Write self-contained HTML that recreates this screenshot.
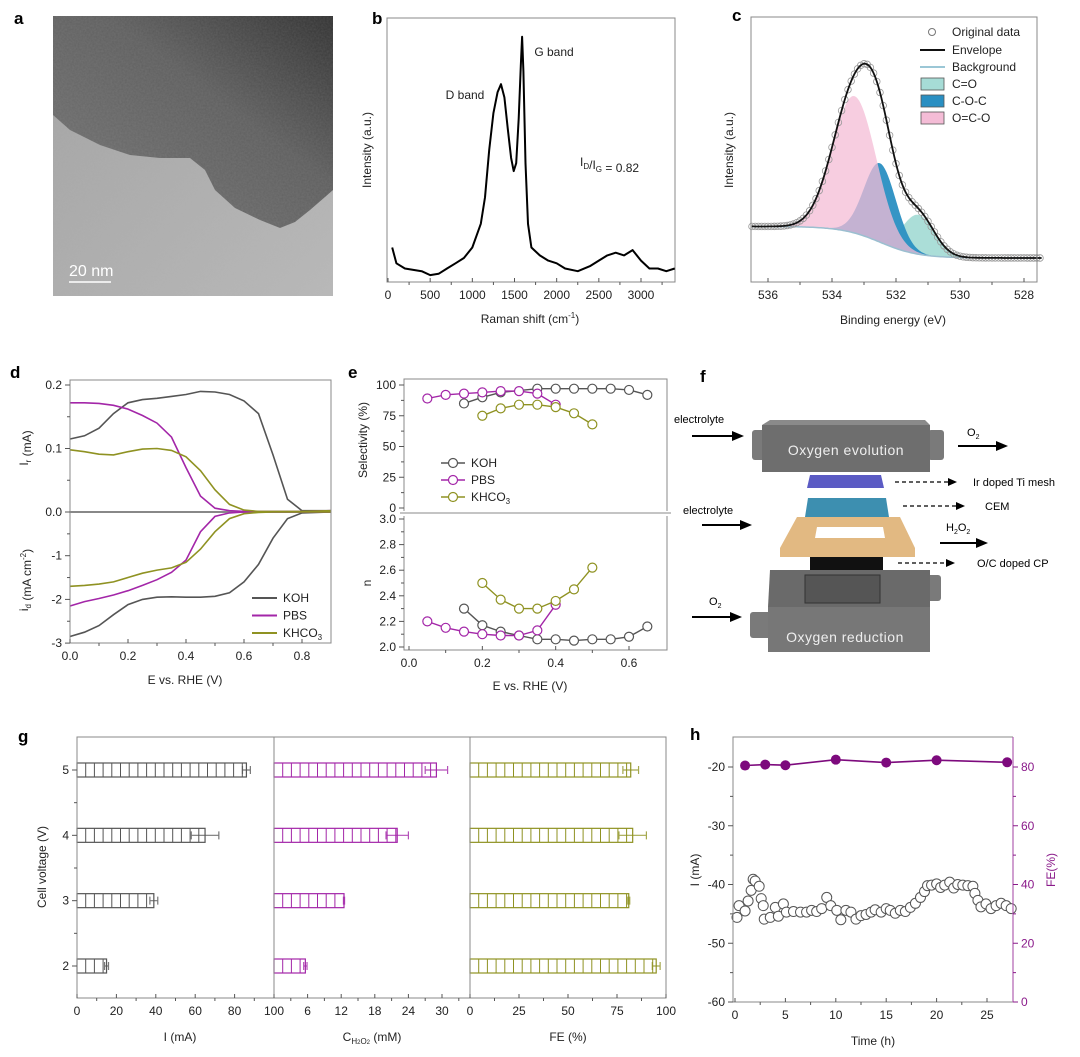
<!DOCTYPE html>
<html><head><meta charset="utf-8"><style>
html,body{margin:0;padding:0;background:#fff;}
svg{display:block;font-family:"Liberation Sans",Arial,sans-serif;}
</style></head><body>
<svg id="fig" width="1080" height="1057" viewBox="0 0 1080 1057" xmlns="http://www.w3.org/2000/svg">
<defs>
<filter id="grain" x="0" y="0" width="100%" height="100%"><feTurbulence type="fractalNoise" baseFrequency="0.55" numOctaves="2" seed="3"/><feColorMatrix type="matrix" values="0 0 0 0 0.5  0 0 0 0 0.5  0 0 0 0 0.5  0 0 0 0.5 0"/><feComposite in2="SourceGraphic" operator="in"/></filter>
<linearGradient id="darkg" x1="0" y1="1" x2="1" y2="0"><stop offset="0" stop-color="#747474"/><stop offset="0.6" stop-color="#5e5e5e"/><stop offset="1" stop-color="#303030"/></linearGradient>
<linearGradient id="lightg" x1="0" y1="0" x2="1" y2="1"><stop offset="0" stop-color="#a2a2a2"/><stop offset="1" stop-color="#b8b8b8"/></linearGradient>
</defs>
<g>
<rect x="53" y="16" width="280" height="280" fill="url(#lightg)"/>
<path d="M53,16 L333,16 L333,190 L325,197 L310,210 L295,222 L280,228 L260,220 L235,208 L215,190 L205,170 L190,158 L160,158 L130,155 L100,145 L70,130 L53,115 Z" fill="url(#darkg)"/>
<rect x="53" y="16" width="280" height="280" fill="#888" filter="url(#grain)" opacity="0.35"/>
<text x="69" y="276" font-size="16" fill="#fff">20 nm</text>
<line x1="69" y1="282" x2="111" y2="282" stroke="#fff" stroke-width="1.5"/>
</g>
<g font-size="11">
<text x="674" y="423">electrolyte</text>
<line x1="692" y1="436" x2="736" y2="436" stroke="#000" stroke-width="2"/><path d="M732,431 L744,436 L732,441 Z"/>
<rect x="752" y="430" width="14" height="30" rx="3" fill="#7a7a7a"/>
<rect x="928" y="430" width="16" height="30" rx="3" fill="#7a7a7a"/>
<path d="M762,425 L770,420 L925,420 L930,425 Z" fill="#8a8a8a"/>
<rect x="762" y="425" width="168" height="47" fill="#6e6e6e"/>
<text x="846" y="455" font-size="14" fill="#eee" text-anchor="middle" letter-spacing="0.5">Oxygen evolution</text>
<text x="967" y="436" font-size="11">O<tspan font-size="7" dy="3">2</tspan></text>
<line x1="958" y1="446" x2="1000" y2="446" stroke="#000" stroke-width="2"/><path d="M996,441 L1008,446 L996,451 Z"/>
<path d="M810,475 L881,475 L884,488 L807,488 Z" fill="#5b5bc4"/>
<line x1="895" y1="482" x2="950" y2="482" stroke="#000" stroke-width="1.3" stroke-dasharray="4,3"/><path d="M948,478 L957,482 L948,486 Z"/>
<text x="973" y="486">Ir doped Ti mesh</text>
<path d="M808,498 L886,498 L889,517 L805,517 Z" fill="#3d8fb0"/>
<line x1="903" y1="506" x2="958" y2="506" stroke="#000" stroke-width="1.3" stroke-dasharray="4,3"/><path d="M956,502 L965,506 L956,510 Z"/>
<text x="985" y="510">CEM</text>
<text x="683" y="514">electrolyte</text>
<line x1="702" y1="525" x2="744" y2="525" stroke="#000" stroke-width="2"/><path d="M740,520 L752,525 L740,530 Z"/>
<path d="M797,517 L900,517 L915,548 L915,557 L780,557 L780,548 Z" fill="#e2b982"/>
<path d="M817,527 L883,527 L885,538 L815,538 Z" fill="#fff"/>
<text x="946" y="531">H<tspan font-size="7" dy="3">2</tspan><tspan dy="-3">O</tspan><tspan font-size="7" dy="3">2</tspan></text>
<line x1="940" y1="543" x2="980" y2="543" stroke="#000" stroke-width="2"/><path d="M976,538 L988,543 L976,548 Z"/>
<rect x="810" y="557" width="73" height="13" fill="#111"/>
<line x1="898" y1="563" x2="948" y2="563" stroke="#000" stroke-width="1.3" stroke-dasharray="4,3"/><path d="M946,559 L955,563 L946,567 Z"/>
<text x="977" y="567">O/C doped CP</text>
<rect x="750" y="612" width="22" height="26" rx="3" fill="#7a7a7a"/>
<rect x="925" y="575" width="16" height="26" rx="3" fill="#7a7a7a"/>
<path d="M770,570 L930,570 L930,607 L768,607 Z" fill="#6a6a6a"/>
<rect x="805" y="575" width="75" height="28" fill="#555" stroke="#333"/>
<rect x="768" y="607" width="162" height="45" fill="#777"/>
<text x="845" y="642" font-size="14" fill="#eee" text-anchor="middle" letter-spacing="0.5">Oxygen reduction</text>
<text x="709" y="605">O<tspan font-size="7" dy="3">2</tspan></text>
<line x1="692" y1="617" x2="734" y2="617" stroke="#000" stroke-width="2"/><path d="M730,612 L742,617 L730,622 Z"/>
</g>
<g font-weight="bold" font-size="17">
<text x="14" y="24">a</text>
<text x="372" y="24">b</text>
<text x="732" y="21">c</text>
<text x="10" y="378">d</text>
<text x="348" y="378">e</text>
<text x="700" y="382">f</text>
<text x="18" y="742">g</text>
<text x="690" y="740">h</text>
</g>
</svg>
<script>
// ---------- data ----------
const ramanShift=[50,100,200,300,400,500,600,700,800,900,1000,1100,1150,1200,1250,1300,1340,1380,1420,1460,1490,1520,1550,1575,1590,1605,1630,1660,1700,1800,1900,2000,2100,2250,2400,2500,2600,2700,2800,2900,3000,3100,3200,3300,3400];
const ramanInt=[0.13,0.07,0.05,0.045,0.04,0.025,0.03,0.05,0.07,0.09,0.13,0.22,0.32,0.5,0.64,0.72,0.75,0.7,0.58,0.47,0.42,0.45,0.62,0.82,0.93,0.8,0.45,0.22,0.13,0.1,0.08,0.07,0.05,0.04,0.06,0.08,0.1,0.11,0.1,0.12,0.08,0.05,0.05,0.04,0.05];
const xpsCenters=[531.3,532.5,533.3];
const xpsHeights=[0.15,0.30,0.52];
const xpsWidths=[0.5,0.5,0.68];
const xpsNames=['C=O','C-O-C','O=C-O'];
const dE=[0,0.05,0.1,0.15,0.2,0.25,0.3,0.35,0.4,0.45,0.5,0.55,0.6,0.65,0.7,0.75,0.8,0.9];
const dKOHup=[0.115,0.12,0.132,0.155,0.172,0.177,0.179,0.182,0.185,0.19,0.189,0.185,0.175,0.155,0.09,0.02,0.002,0.002];
const dPBSup=[0.172,0.172,0.171,0.168,0.162,0.152,0.14,0.118,0.07,0.025,0.006,0.002,0.001,0.001,0.001,0.001,0.001,0.002];
const dKHCup=[0.098,0.095,0.091,0.09,0.095,0.099,0.1,0.097,0.087,0.065,0.035,0.012,0.003,0.001,0.001,0.001,0.001,0.002];
const dKOHdn=[-2.85,-2.75,-2.6,-2.35,-2.12,-2.0,-1.95,-1.94,-1.95,-1.95,-1.93,-1.85,-1.6,-1.2,-0.6,-0.15,-0.02,0];
const dPBSdn=[-2.15,-2.05,-1.98,-1.9,-1.8,-1.68,-1.55,-1.38,-1.1,-0.45,-0.1,-0.02,0,0,0,0,0,0];
const dKHCdn=[-1.7,-1.68,-1.65,-1.6,-1.5,-1.4,-1.33,-1.28,-1.15,-0.85,-0.45,-0.15,-0.04,-0.01,0,0,0,0];
const eKOHx=[0.15,0.2,0.25,0.35,0.4,0.45,0.5,0.55,0.6,0.65];
const eKOHsel=[85,90,94,97,97,97,97,97,96,92];
const ePBSx=[0.05,0.1,0.15,0.2,0.25,0.3,0.35,0.4];
const ePBSsel=[89,92,93,94,95,95,93,84];
const eKHCx=[0.2,0.25,0.3,0.35,0.4,0.45,0.5];
const eKHCsel=[75,81,84,84,82,77,68];
const eKOHnx=[0.15,0.2,0.25,0.3,0.35,0.4,0.45,0.5,0.55,0.6,0.65];
const eKOHn=[2.3,2.17,2.12,2.09,2.06,2.06,2.05,2.06,2.06,2.08,2.16];
const ePBSn=[2.2,2.15,2.12,2.1,2.09,2.09,2.13,2.33];
const eKHCn=[2.5,2.37,2.3,2.3,2.36,2.45,2.62];
const gVolt=[5,4,3,2];
const gCurrent=[86,65,39,15];
const gCurrentErr=[2,7,2,1];
const gConc=[29,22,12.5,5.6];
const gConcErr=[2,2,0.1,0.3];
const gFE=[82,83,81,95];
const gFEErr=[4,7,0.5,2];
const hTime=[0.2,0.4,1,1.3,1.6,1.8,2,2.4,2.6,2.8,2.9,3.5,4,4.3,4.8,5.1,5.8,6.5,7.1,7.6,8.1,8.6,9.1,9.5,10.1,10.5,11,11.5,12,12.5,13,13.5,13.9,14.5,15,15.4,15.9,16.4,16.9,17.4,17.9,18.4,18.8,19.1,19.5,20,20.4,20.8,21.3,21.7,22.1,22.6,23.1,23.6,23.8,24.1,24.4,24.9,25.4,25.9,26.4,26.9,27.4];
const hCurrent=[-45.6,-43.6,-44.5,-42.8,-41,-39.1,-39.4,-40.3,-42.4,-43.6,-45.9,-45.6,-43.9,-45.4,-43.3,-44.7,-44.6,-44.7,-44.7,-44.4,-44.6,-44.1,-42.2,-43.6,-44.4,-46,-44.4,-44.7,-45.9,-45.3,-45.1,-44.7,-44.3,-44.7,-44.1,-44.4,-44.9,-44.4,-44.6,-43.9,-43.2,-42.2,-41.2,-40.2,-40.1,-39.9,-40.5,-40.1,-39.6,-40.6,-40,-40.1,-40.2,-40.3,-41.5,-42.7,-43.8,-43.3,-44.1,-43.6,-43.2,-43.6,-44.1];
const hFETime=[1,3,5,10,15,20,27];
const hFE=[80.5,80.8,80.6,82.5,81.5,82.3,81.6];

// ---------- helpers ----------
const NS='http://www.w3.org/2000/svg';
const svg=document.getElementById('fig');
function mk(tag,attrs,parent){const e=document.createElementNS(NS,tag);for(const k in attrs)e.setAttribute(k,attrs[k]);(parent||svg).appendChild(e);return e;}
function lin(d0,d1,r0,r1){return v=>r0+(v-d0)*(r1-r0)/(d1-d0);}
function grp(){return mk('g',{});}
function xTicks(g,vals,labels,sx,y,len,minor){vals.forEach((v,i)=>{const t=mk('line',{x1:sx(v),x2:sx(v),y1:y,y2:y+len,stroke:'#555','stroke-width':1},g);


if(labels&&labels[i]!==''){const l=mk('text',{x:sx(v),y:y+17,'font-size':12,'text-anchor':'middle',fill:'#222'},g);l.textContent=labels[i];

}});
(minor||[]).forEach(v=>{const t=mk('line',{x1:sx(v),x2:sx(v),y1:y,y2:y+3,stroke:'#555','stroke-width':1},g);

});}
function yTicks(g,vals,labels,sy,x,dir,minor,color){color=color||'#222';vals.forEach((v,i)=>{const t=mk('line',{x1:x,x2:x+dir*5,y1:sy(v),y2:sy(v),stroke:color==='#222'?'#555':color,'stroke-width':1},g);


if(labels){const l=mk('text',{x:x+dir*8,y:sy(v)+4,'font-size':12,'text-anchor':dir<0?'end':'start',fill:color},g);l.textContent=labels[i];

}});
(minor||[]).forEach(v=>{const t=mk('line',{x1:x,x2:x+dir*3,y1:sy(v),y2:sy(v),stroke:color==='#222'?'#555':color,'stroke-width':1},g);

});}
function rtext(g,x,y,s,size,color){const t=mk('text',{x:x,y:y,'font-size':size||12,'text-anchor':'middle',fill:color||'#222',transform:`rotate(-90 ${x} ${y})`},g);t.innerHTML=s;return t;}
function ctext(g,x,y,s,size,color,anchor){const t=mk('text',{x:x,y:y,'font-size':size||12,'text-anchor':anchor||'middle',fill:color||'#222'},g);t.innerHTML=s;return t;}
function pathFrom(xs,ys,sx,sy){return xs.map((v,i)=>(i?'L':'M')+sx(v).toFixed(1)+','+sy(ys[i]).toFixed(1)).join(' ');}
const sub=s=>`<tspan font-size="8" dy="3">${s}</tspan><tspan dy="-3"></tspan>`;

// ---------- panel b ----------
(function(){const g=grp();


const sx=lin(0,3000,388,641), sy=v=>281.7-263.3*v;
const box=mk('rect',{x:387,y:18,width:288,height:264,fill:'none',stroke:'#888'},g);


const p=mk('path',{d:pathFrom(ramanShift,ramanInt,sx,sy),fill:'none',stroke:'#000','stroke-width':2,'stroke-linejoin':'round'},g);


xTicks(g,[0,500,1000,1500,2000,2500,3000],['0','500','1000','1500','2000','2500','3000'],sx,282,-4,[250,750,1250,1750,2250,2750,3250]);
const xt=ctext(g,530,323,'Raman shift (cm<tspan font-size="8" dy="-5">-1</tspan><tspan dy="5">)</tspan>',12);


const yt=rtext(g,371,150,'Intensity (a.u.)',12);


const d=ctext(g,465,99,'D band',12);


const gb=ctext(g,554,56,'G band',12);


const r=ctext(g,580,166,'I'+sub('D')+'/I'+sub('G')+' = 0.82',12,'#222','start');


})();

// ---------- panel c ----------
(function(){const g=grp();


const sx=E=>768+(536-E)*32, sy=v=>281.7-263.3*v;
const bg=E=>0.09+0.12/(1+Math.exp(-(E-532.5)/0.6));
const comp=(k,E)=>xpsHeights[k]*Math.exp(-Math.pow(E-xpsCenters[k],2)/(2*xpsWidths[k]*xpsWidths[k]));
const Es=[];for(let E=536.5;E>=527.45;E-=0.05)Es.push(+E.toFixed(2));
const fills=['#a6dcd6','#2a8fc2','#f4bcd6'];
[0,1,2].forEach(k=>{let d='M'+sx(Es[0])+','+sy(bg(Es[0]));Es.forEach(E=>d+=' L'+sx(E).toFixed(1)+','+sy(bg(E)+comp(k,E)).toFixed(1));
for(let i=Es.length-1;i>=0;i--)d+=' L'+sx(Es[i]).toFixed(1)+','+sy(bg(Es[i])).toFixed(1);
const a=mk('path',{d:d+'Z',fill:fills[k],opacity:k===2?0.75:0.95},g);

});
const bgl=mk('path',{d:pathFrom(Es,Es.map(bg),sx,sy),fill:'none',stroke:'#9bbfd0','stroke-width':1.5},g);


const env=Es.map(E=>bg(E)+comp(0,E)+comp(1,E)+comp(2,E));
for(let i=0;i<Es.length;i+=2){const c=mk('circle',{cx:sx(Es[i]),cy:sy(env[i]),r:3.3,fill:'none',stroke:'#999','stroke-width':0.8},g);

}
const el=mk('path',{d:pathFrom(Es,env,sx,sy),fill:'none',stroke:'#111','stroke-width':1.8},g);


const box=mk('rect',{x:751,y:17,width:286,height:265,fill:'none',stroke:'#888'},g);


xTicks(g,[536,534,532,530,528],['536','534','532','530','528'],sx,282,-4,[535,533,531,529]);
const xt=ctext(g,893,324,'Binding energy (eV)',12);


const yt=rtext(g,733,150,'Intensity (a.u.)',12);


const lg=mk('g',{},g);


const c0=mk('circle',{cx:932,cy:32,r:3.5,fill:'#fff',stroke:'#777'},lg);


const l1=mk('line',{x1:920,x2:945,y1:50,y2:50,stroke:'#111','stroke-width':2},lg);


const l2=mk('line',{x1:920,x2:945,y1:67,y2:67,stroke:'#9bc7d6','stroke-width':2},lg);


[0,1,2].forEach(k=>{const s=mk('rect',{x:921,y:78+k*17,width:23,height:12,fill:fills[k],stroke:'#555','stroke-width':0.8},lg);

});
['Original data','Envelope','Background','C=O','C-O-C','O=C-O'].forEach((s,i)=>{const t=ctext(lg,952,[36,54,71,88,105,122][i],s,12,'#222','start');

});
})();

// ---------- panel d ----------
(function(){const g=grp();


const sx=lin(0,0.8,70,302), su=v=>512-v*635, sl=v=>512-v*43.7;
const zero=mk('line',{x1:70,x2:331,y1:512,y2:512,stroke:'#888','stroke-width':2},g);


const cols=['#555','#a326a8','#8f9222'];
[[dKOHup,dKOHdn,'koh'],[dPBSup,dPBSdn,'pbs'],[dKHCup,dKHCdn,'khco3']].forEach((s,k)=>{
const a=mk('path',{d:pathFrom(dE,s[0],sx,su),fill:'none',stroke:cols[k],'stroke-width':1.6},g);


const b=mk('path',{d:pathFrom(dE,s[1],sx,sl),fill:'none',stroke:cols[k],'stroke-width':1.6},g);

});
const box=mk('rect',{x:70,y:380,width:261,height:263,fill:'none',stroke:'#888'},g);


xTicks(g,[0,0.2,0.4,0.6,0.8],['0.0','0.2','0.4','0.6','0.8'],sx,643,-4,[0.1,0.3,0.5,0.7]);
yTicks(g,[0.2,0.1,0.0],['0.2','0.1','0.0'],su,70,-1,[0.15,0.05]);
yTicks(g,[-1,-2,-3],['-1','-2','-3'],sl,70,-1,[-0.5,-1.5,-2.5]);
const xt=ctext(g,185,684,'E vs. RHE (V)',12);


const y1=rtext(g,28,448,'I'+sub('r')+' (mA)',12);


const y2=rtext(g,28,580,'i'+sub('d')+' (mA cm<tspan font-size="8" dy="-5">-2</tspan><tspan dy="5">)</tspan>',12);


['KOH','PBS','KHCO'+sub('3')].forEach((s,k)=>{const y=598+k*17.5;
const l=mk('line',{x1:252,x2:277,y1:y,y2:y,stroke:cols[k],'stroke-width':2},g);


const t=ctext(g,283,y+4,s,12,'#222','start');

});
})();

// ---------- panel e ----------
(function(){const g=grp();


const sx=lin(0,0.6,409,629), s1=lin(0,100,508,385), s2=lin(2,3,647,519);
const cols=['#555','#a326a8','#8f9222'];
const series=[[eKOHx,eKOHsel,eKOHnx,eKOHn,'koh'],[ePBSx,ePBSsel,ePBSx,ePBSn,'pbs'],[eKHCx,eKHCsel,eKHCx,eKHCn,'khco3']];
series.forEach((s,k)=>{
const a=mk('path',{d:pathFrom(s[0],s[1],sx,s1),fill:'none',stroke:cols[k],'stroke-width':1.4},g);


s[0].forEach((v,i)=>{const c=mk('circle',{cx:sx(v),cy:s1(s[1][i]),r:4.5,fill:'#fff',stroke:cols[k],'stroke-width':1.2},g);

});
const b=mk('path',{d:pathFrom(s[2],s[3],sx,s2),fill:'none',stroke:cols[k],'stroke-width':1.4},g);


s[2].forEach((v,i)=>{const c=mk('circle',{cx:sx(v),cy:s2(s[3][i]),r:4.5,fill:'#fff',stroke:cols[k],'stroke-width':1.2},g);

});});
const fr=mk('path',{d:'M404,511 L404,379 L667,379 L667,511 M404,516 L404,650 L667,650 L667,516 M400,513 L671,513',fill:'none',stroke:'#888'},g);


xTicks(g,[0,0.2,0.4,0.6],['0.0','0.2','0.4','0.6'],sx,650,-4,[0.1,0.3,0.5]);
yTicks(g,[100,75,50,25,0],['100','75','50','25','0'],s1,404,-1,[87.5,62.5,37.5,12.5]);
yTicks(g,[3,2.8,2.6,2.4,2.2,2],['3.0','2.8','2.6','2.4','2.2','2.0'],s2,404,-1,[2.9,2.7,2.5,2.3,2.1]);
const xt=ctext(g,530,690,'E vs. RHE (V)',12);


const y1=rtext(g,367,440,'Selectivity (%)',12);


const y2=rtext(g,371,583,'n',12);


['KOH','PBS','KHCO'+sub('3')].forEach((s,k)=>{const y=463+k*17;
const l=mk('line',{x1:441,x2:465,y1:y,y2:y,stroke:cols[k],'stroke-width':1.4},g);


const c=mk('circle',{cx:453,cy:y,r:4.5,fill:'#fff',stroke:cols[k],'stroke-width':1.2},g);


const t=ctext(g,471,y+4,s,12,'#222','start');

});
})();

// ---------- panel g ----------
(function(){const g=grp();


const sy=lin(2,5,966,770);
const sxI=lin(0,100,77,274), sxC=lin(0,30,274,442), sxF=lin(0,100,470,666);
const cols=['#555','#a326a8','#8f9222'];
const sets=[[gCurrent,gCurrentErr,sxI,'current'],[gConc,gConcErr,sxC,'concentration'],[gFE,gFEErr,sxF,'faradaic-efficiency']];
sets.forEach((s,k)=>{const x0=s[2](0);
gVolt.forEach((v,i)=>{const y=sy(v),x1=s[2](s[0][i]);
const r=mk('rect',{x:x0,y:y-7,width:x1-x0,height:14,fill:'#fff',stroke:cols[k],'stroke-width':1.2},g);


let dd='';for(let x=x0+8.7;x<x1-1;x+=8.7)dd+=`M${x.toFixed(1)},${y-7} L${x.toFixed(1)},${y+7} `;
if(dd){const h=mk('path',{d:dd,stroke:cols[k],'stroke-width':1,fill:'none'},g);

}
const ea=s[2](s[0][i]-s[1][i]), eb=s[2](s[0][i]+s[1][i]);
const e=mk('path',{d:`M${ea},${y} L${eb},${y} M${ea},${y-4} L${ea},${y+4} M${eb},${y-4} L${eb},${y+4}`,stroke:cols[k],'stroke-width':1.2,fill:'none',opacity:0.8},g);

});});
const fr=mk('path',{d:'M77,737 L666,737 L666,998 L77,998 Z M274,737 L274,998 M470,737 L470,998',fill:'none',stroke:'#888'},g);


xTicks(g,[0,20,40,60,80],['0','20','40','60','80'],sxI,998,-4,[10,30,50,70,90]);
xTicks(g,[0,6,12,18,24,30],['100','6','12','18','24','30'],sxC,998,-4,[3,9,15,21,27,33]);
xTicks(g,[0,25,50,75,100],['0','25','50','75','100'],sxF,998,-4,[12.5,37.5,62.5,87.5]);
yTicks(g,gVolt,gVolt.map(String),sy,77,-1,[4.5,3.5,2.5]);
const t1=ctext(g,180,1041,'I (mA)',12);


const t2=ctext(g,372,1041,'C<tspan font-size="8" dy="3">H<tspan font-size="6">2</tspan>O<tspan font-size="6">2</tspan></tspan><tspan dy="-3"> (mM)</tspan>',12);


const t3=ctext(g,568,1041,'FE (%)',12);


const yt=rtext(g,46,867,'Cell voltage (V)',12);


})();

// ---------- panel h ----------
(function(){const g=grp();


const sx=lin(0,25,735,987), sy=lin(-20,-60,767,1002), sf=lin(80,0,767,1002);
hTime.forEach((t,i)=>{const c=mk('circle',{cx:sx(t),cy:sy(hCurrent[i]),r:5,fill:'#fff',stroke:'#555','stroke-width':1},g);

});
const fl=mk('path',{d:pathFrom(hFETime,hFE,sx,sf),fill:'none',stroke:'#7d0a7d','stroke-width':1.6},g);


hFETime.forEach((t,i)=>{const c=mk('circle',{cx:sx(t),cy:sf(hFE[i]),r:5,fill:'#7d0a7d'},g);

});
const fr=mk('path',{d:'M1013,737 L733,737 L733,1002 L1013,1002',fill:'none',stroke:'#888'},g);


const ra=mk('line',{x1:1013,x2:1013,y1:737,y2:1002,stroke:'#b060b0','stroke-width':1.2},g);


xTicks(g,[0,5,10,15,20,25],['0','5','10','15','20','25'],sx,1002,-4,[2.5,7.5,12.5,17.5,22.5]);
yTicks(g,[-20,-30,-40,-50,-60],['-20','-30','-40','-50','-60'],sy,733,-1,[-25,-35,-45,-55]);
yTicks(g,[80,60,40,20,0],['80','60','40','20','0'],sf,1013,1,[70,50,30,10],'#8a1a8a');
const xt=ctext(g,873,1045,'Time (h)',12);


const yl=rtext(g,699,870,'I (mA)',12);


const yr=rtext(g,1055,870,'FE(%)',12,'#8a1a8a');


})();
</script>
</body></html>
